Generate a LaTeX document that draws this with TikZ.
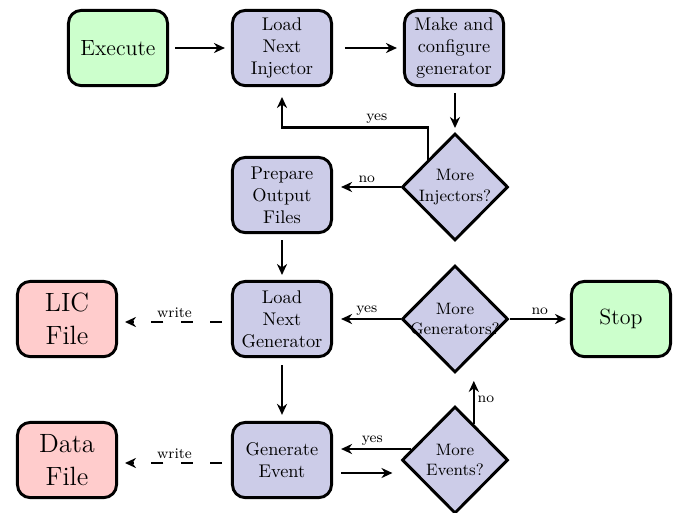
\documentclass[tikz,border=0pt]{standalone}
\usetikzlibrary{shapes.geometric,arrows.meta,calc}
\definecolor{boxblue}{RGB}{204,204,232}
\definecolor{boxgreen}{RGB}{204,255,204}
\definecolor{boxred}{RGB}{255,204,204}
\begin{document}
\begin{tikzpicture}[x=0.545pt,y=-0.545pt,
  box/.style={draw,line width=1.6pt,rounded corners=7pt,minimum width=54pt,minimum height=41pt,align=center,inner sep=2pt},
  proc/.style={box,fill=boxblue},
  term/.style={box,fill=boxgreen,font=\large},
  datafile/.style={box,fill=boxred,font=\Large},
  dia/.style={diamond,draw,line width=1.6pt,fill=boxblue,minimum width=57.8pt,minimum height=58.3pt,inner sep=0pt},
  dtext/.style={font=\small,align=center},
  arr/.style={line width=1.3pt,-{Stealth[length=6pt,width=5.5pt]}},
  warr/.style={arr,dash pattern=on 6.5pt off 9.5pt},
  lbl/.style={font=\footnotesize,inner sep=1.5pt}]
\useasboundingbox (0,0) rectangle (678,512);
\node[term] (ex) at (118,48) {Execute};
\node[proc] (li) at (282,48) {Load\\Next\\Injector};
\node[proc] (mk) at (454,48) {Make and\\configure\\generator};
\node[dia,label={[dtext]center:More\\Injectors?}] (mi) at (455,187) {};
\node[proc] (po) at (282,195) {Prepare\\Output\\Files};
\node[proc] (lg) at (282,319) {Load\\Next\\Generator};
\node[dia,label={[dtext]center:More\\Generators?}] (mg) at (455,319) {};
\node[term] (st) at (621,319) {Stop};
\node[datafile] (lic) at (67,319) {LIC\\File};
\node[proc] (ge) at (282,460) {Generate\\Event};
\node[dia,label={[dtext]center:More\\Events?}] (me) at (455,460) {};
\node[datafile] (df) at (67,460) {Data\\File};
% top row
\draw[arr,shorten <=3.3pt,shorten >=3.3pt] (ex) -- (li);
\draw[arr,shorten <=6.5pt,shorten >=3.3pt] (li) -- (mk);
\draw[arr,shorten <=3.3pt,shorten >=2.2pt] (mk.south -| mi.north) -- (mi.north);
\draw[arr,shorten >=5.4pt] (mi.north west) -- ++(0,-32) -| node[lbl,above,pos=0.175]{yes} (li.south);
\draw[arr,shorten >=4.4pt] (mi.west) -- node[lbl,above]{no} (mi.west -| po.east);
\draw[arr,shorten <=3.3pt,shorten >=2.7pt] (po) -- (lg);
% generator row
\draw[arr,shorten >=4.4pt] (mg) -- node[lbl,above]{yes} (lg);
\draw[arr,shorten >=2.2pt] (mg) -- node[lbl,above]{no} (st);
\draw[warr,shorten <=4.9pt,shorten >=3.8pt] ($(lg.west)+(0,3)$) -- node[lbl,above]{write} ($(lic.east)+(0,3)$);
\draw[arr,shorten <=3.8pt,shorten >=3.3pt] (lg) -- (ge);
% event row
\draw[arr,shorten <=4.4pt,shorten >=4.4pt] ($(ge.east)+(0,13)$) -- ($(me.west)+(0,13)$);
\coordinate (mey) at ($(me.west)!0.4!(me.north west)$);
\draw[arr,shorten >=4.4pt] (mey) -- node[lbl,above]{yes} (mey -| ge.east);
\coordinate (men) at ($(me.north)!0.345!(me.east)$);
\draw[arr,shorten >=3.8pt] (men) -- node[lbl,right]{no} (men |- mg.south);
\draw[warr,shorten <=4.9pt,shorten >=3.8pt] ($(ge.west)+(0,3)$) -- node[lbl,above]{write} ($(df.east)+(0,3)$);
\end{tikzpicture}
\end{document}
